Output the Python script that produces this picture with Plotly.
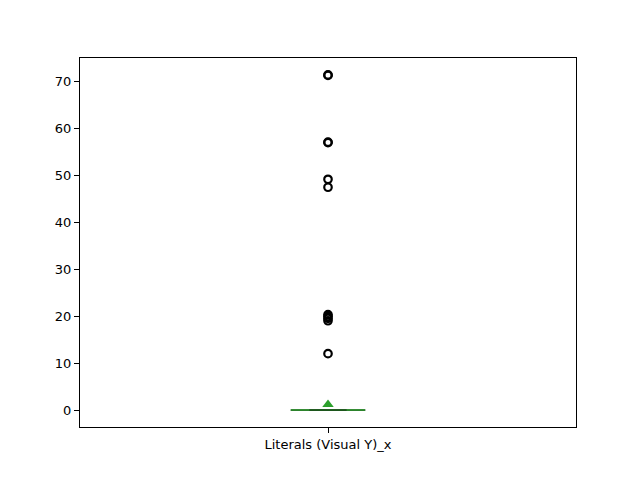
import plotly.graph_objects as go

category = ["Literals (Visual Y)_x"]
q1 = [0.0]
median = [0.0]
q3 = [0.0]
whisker_low = [0.0]
whisker_high = [0.0]
means = [1.2]
outliers = [71.3, 71.2, 57.0, 56.9, 49.1, 47.4, 20.3, 19.9, 19.5, 19.0, 12.0]

pos = 1.0
half = 0.075
cap = 0.0375

fig = go.Figure()
# box rectangle
fig.add_trace(go.Scatter(
    x=[pos - half, pos + half, pos + half, pos - half, pos - half],
    y=[q1[0], q1[0], q3[0], q3[0], q1[0]],
    mode="lines", line=dict(color="black", width=1), hoverinfo="skip", showlegend=False))
# whiskers
fig.add_trace(go.Scatter(x=[pos, pos, None, pos, pos],
    y=[q1[0], whisker_low[0], None, q3[0], whisker_high[0]],
    mode="lines", line=dict(color="black", width=1), showlegend=False))
# median
fig.add_trace(go.Scatter(x=[pos - half, pos + half], y=[median[0], median[0]],
    mode="lines", line=dict(color="#2ca02c", width=1.5), showlegend=False))
# caps (seen through the median line)
fig.add_trace(go.Scatter(x=[pos - cap, pos + cap, None, pos - cap, pos + cap],
    y=[whisker_low[0], whisker_low[0], None, whisker_high[0], whisker_high[0]],
    mode="lines", line=dict(color="rgba(0,0,0,0.25)", width=1.5), showlegend=False))
# outliers
fig.add_trace(go.Scatter(x=[pos] * len(outliers), y=outliers, mode="markers",
    marker=dict(symbol="circle-open", size=7.5, color="black", line=dict(width=2.2, color="black")),
    showlegend=False))
# mean
fig.add_trace(go.Scatter(x=[pos], y=means, mode="markers",
    marker=dict(symbol="triangle-up", size=10, color="#2ca02c"), showlegend=False))

fig.update_layout(
    width=640, height=480,
    margin=dict(l=80, r=64, t=58, b=53),
    plot_bgcolor="white", paper_bgcolor="white",
    font=dict(family="DejaVu Sans", size=13, color="black"),
)
fig.update_xaxes(range=[0.5, 1.5], tickvals=[pos], ticktext=category,
    showgrid=False, zeroline=False, showline=True, linecolor="black", linewidth=1,
    mirror=True, ticks="outside", ticklen=5, tickcolor="black")
fig.update_yaxes(range=[-3.6, 74.9], tickvals=[0, 10, 20, 30, 40, 50, 60, 70],
    showgrid=False, zeroline=False, showline=True, linecolor="black", linewidth=1,
    mirror=True, ticks="outside", ticklen=5, tickcolor="black")

fig.write_html("out.html")
